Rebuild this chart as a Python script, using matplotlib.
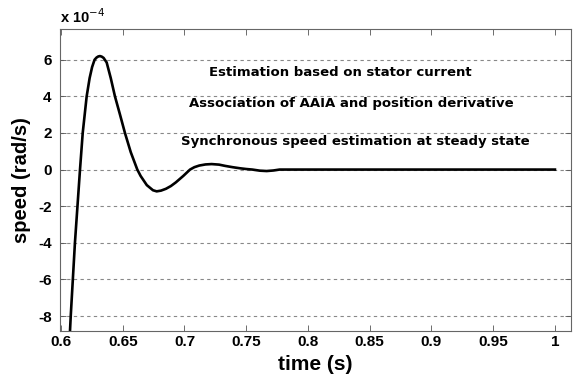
import matplotlib
matplotlib.use("Agg")
import matplotlib.pyplot as plt

plt.rcParams['font.family'] = ['Liberation Sans', 'DejaVu Sans']
plt.rcParams['axes.unicode_minus'] = False

# speed in units of 1e-4 rad/s
time_s = [0.6073, 0.6079, 0.6113, 0.6154, 0.6176, 0.6208, 0.6232, 0.6252, 0.6272,
          0.6288, 0.6302, 0.6316, 0.6330, 0.6345, 0.6370, 0.6403, 0.6437, 0.6478,
          0.6518, 0.6565, 0.6618, 0.6645, 0.6695, 0.6745, 0.6775, 0.6810, 0.6850,
          0.6890, 0.6930, 0.6990, 0.7045, 0.7080, 0.7120, 0.7170, 0.7220, 0.7280,
          0.7330, 0.7390, 0.7450, 0.7500, 0.7550, 0.7610, 0.7666, 0.7720, 0.7770,
          0.8500, 0.9000, 1.0000]
speed = [-8.82, -8.0, -4.0, 0.0, 2.0, 4.0, 5.0, 5.6, 6.0,
         6.12, 6.18, 6.2, 6.17, 6.1, 5.85, 5.0, 4.0, 3.0,
         2.0, 0.95, 0.0, -0.35, -0.85, -1.13, -1.19, -1.15, -1.05,
         -0.9, -0.7, -0.35, 0.0, 0.13, 0.22, 0.28, 0.3, 0.27,
         0.2, 0.13, 0.07, 0.03, 0.0, -0.06, -0.08, -0.05, 0.0,
         0.0, 0.0, 0.0]

xticks = [0.6, 0.65, 0.7, 0.75, 0.8, 0.85, 0.9, 0.95, 1.0]
xtick_labels = ['0.6', '0.65', '0.7', '0.75', '0.8', '0.85', '0.9', '0.95', '1']
yticks = [-8, -6, -4, -2, 0, 2, 4, 6]
ytick_labels = ['-8', '-6', '-4', '-2', '0', '2', '4', '6']

annotations = ["Estimation based on stator current",
               "Association of AAIA and position derivative",
               "Synchronous speed estimation at steady state"]
annot_x = [0.826, 0.835, 0.838]
annot_y = [5.3, 3.6, 1.55]

fig = plt.figure(figsize=(5.73, 3.81), dpi=100)
ax = fig.add_axes([0.1047, 0.1312, 0.8918, 0.7927])

ax.plot(time_s, speed, color='black', lw=1.9, solid_joinstyle='round')
ax.set_xlim(0.5992, 1.013)
ax.set_ylim(-8.82, 7.68)
ax.set_xticks(xticks)
ax.set_xticklabels(xtick_labels)
ax.set_yticks(yticks)
ax.set_yticklabels(ytick_labels)
ax.tick_params(direction='in', top=True, right=True, length=4, width=0.6,
               color='#555555', labelsize=11)
ax.tick_params(axis='x', pad=3)
ax.tick_params(axis='y', pad=6)
for lab in ax.get_xticklabels() + ax.get_yticklabels():
    lab.set_fontweight('bold')
for s in ax.spines.values():
    s.set_color('#666666')
    s.set_linewidth(0.8)
ax.yaxis.grid(True, linestyle=(0, (3, 3)), color='#888888', lw=0.8)
ax.set_axisbelow(True)

for t, xx, yy in zip(annotations, annot_x, annot_y):
    ax.text(xx, yy, t, ha='center', va='center', fontsize=9.5, fontweight='bold',
            family='DejaVu Sans')

ax.set_xlabel('time (s)', fontsize=15, fontweight='bold', labelpad=4)
ax.set_ylabel('speed (rad/s)', fontsize=14.5, fontweight='bold', labelpad=5)
fig.text(0.105, 0.955, r'x 10$^{-4}$', fontsize=10.5, fontweight='bold',
         ha='left', va='center')

fig.savefig('out.png', dpi=100)
